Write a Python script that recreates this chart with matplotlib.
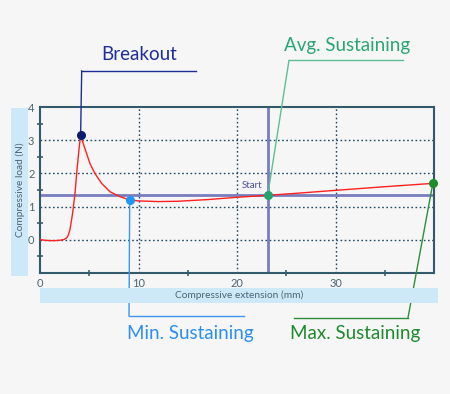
import matplotlib
matplotlib.use('Agg')
import matplotlib.pyplot as plt
from matplotlib.lines import Line2D
from matplotlib.patches import Rectangle

# curve
ext = [0, 0.5, 1, 1.5, 2, 2.4, 2.7, 2.85, 3.04, 3.31, 3.55, 3.78, 3.98, 4.12,
       4.39, 4.73, 5.07, 5.57, 6.25, 7.09, 8.1, 9.1, 10, 12, 14, 17, 20,
       23.1, 26, 30, 35, 39.85]
load = [0, -0.02, -0.03, -0.03, -0.02, 0.0, 0.05, 0.12, 0.30, 0.80, 1.40, 2.20, 2.80, 3.15,
        2.90, 2.60, 2.30, 2.0, 1.70, 1.45, 1.30, 1.2, 1.17, 1.15, 1.16, 1.21, 1.28,
        1.34, 1.4, 1.49, 1.6, 1.70]

breakout = (4.12, 3.15)
min_sus = (9.1, 1.2)
avg_sus = (23.1, 1.34)
max_sus = (39.85, 1.70)
start_x = 23.1
avg_load = 1.34

W, H = 450, 394
bg = '#f6f6f6'
fig = plt.figure(figsize=(4.5, 3.94), dpi=100, facecolor=bg)
plt.rcParams['font.family'] = ['Lato', 'DejaVu Sans']

def px(x, y):
    return (x / W, 1 - y / H)

# label boxes
fig.patches.append(Rectangle(px(11, 276), 17 / W, 168 / H, transform=fig.transFigure,
                             facecolor='#cde8f6', edgecolor='none', zorder=0))
fig.patches.append(Rectangle(px(40, 303), 398 / W, 15 / H, transform=fig.transFigure,
                             facecolor='#cde8f6', edgecolor='none', zorder=0))

ax = fig.add_axes([40 / W, 1 - 272.7 / H, 394.3 / W, 165.4 / H])
ax.set_facecolor(bg)
ax.set_xlim(0, 40)
ax.set_ylim(-1, 4)

ax.set_xticks([0, 10, 20, 30])
ax.set_xticks([5, 15, 25, 35], minor=True)
ax.set_yticks([0, 1, 2, 3, 4])
ax.set_yticks([-0.5, 0.5, 1.5, 2.5, 3.5], minor=True)
ax.tick_params(which='major', length=0, labelsize=8, labelcolor='#4a6474', pad=4)
ax.tick_params(which='minor', direction='inout', length=5, width=1.2, color='#3d5f6e')
for s in ax.spines.values():
    s.set_color('#335a6a')
    s.set_linewidth(1.5)

for g in [10, 20, 30]:
    ax.axvline(g, color='#1e4a66', lw=1, ls=(0, (1.2, 1.8)), zorder=1)
for g in [0, 1, 2, 3]:
    ax.axhline(g, color='#1e4a66', lw=1, ls=(0, (1.2, 1.8)), zorder=1)

ax.axhline(avg_load, color='#6a70b8', lw=2, alpha=0.9, zorder=2)
ax.axvline(start_x, color='#6a70b8', lw=2, alpha=0.9, zorder=2)
ax.text(start_x - 0.5, 1.65, 'Start', color='#4a4f9a', fontsize=7, ha='right', va='center')

ax.plot(ext, load, color='#ff2020', lw=1, zorder=3)

fig.text(20 / W, 1 - 190 / H, 'Compressive load (N)', rotation=90, ha='center', va='center',
         fontsize=7.3, color='#4a6474')
fig.text(239 / W, 1 - 295.5 / H, 'Compressive extension (mm)', ha='center', va='center',
         fontsize=7.3, color='#4a6474')

def callout(pt, corner, x2, tx, ty, text, color, lcolor, mcolor):
    ax.annotate('', xy=pt, xycoords='data', xytext=px(*corner), textcoords='figure fraction',
                arrowprops=dict(arrowstyle='-', color=lcolor, lw=1, shrinkA=0, shrinkB=0),
                annotation_clip=False)
    fig.add_artist(Line2D([corner[0] / W, x2 / W], [1 - corner[1] / H] * 2,
                          transform=fig.transFigure, color=lcolor, lw=1))
    ax.plot(*pt, 'o', ms=5.5, color=mcolor, zorder=5, clip_on=False)
    fig.text(tx / W, 1 - ty / H, text, ha='center', va='center', fontsize=13.5, color=color)

callout(breakout, (81.7, 70.7), 196, 139, 54, 'Breakout', '#1f2d96', '#1f2d96', '#0d1b6e')
callout(avg_sus, (289, 60.3), 403, 347, 45, 'Avg. Sustaining', '#2aa676', '#5cbf94', '#22a46c')
callout(min_sus, (129, 316), 244, 190, 333, 'Min. Sustaining', '#2a8ff0', '#3a96ee', '#2196f3')
callout(max_sus, (408, 317.7), 294, 355, 333, 'Max. Sustaining', '#1e8a2e', '#2a8f38', '#1e8a2e')

fig.savefig('out.png', dpi=100, facecolor=bg)
